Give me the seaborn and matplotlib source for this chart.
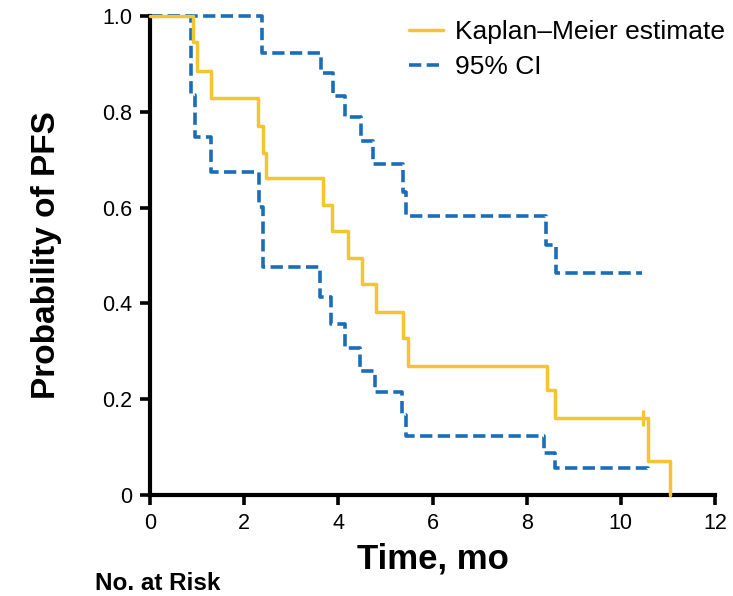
import pandas as pd
import matplotlib.pyplot as plt
import seaborn as sns
from matplotlib.lines import Line2D

# Kaplan-Meier estimate (step times in months, survival probability)
km_time = [0, 0.92, 0.99, 1.29, 2.30, 2.40, 2.46, 3.67, 3.86, 4.20, 4.51, 4.80,
           5.37, 5.48, 8.44, 8.60, 10.57, 11.04]
km_surv = [1.0, 0.946, 0.885, 0.829, 0.770, 0.714, 0.662, 0.605, 0.552, 0.495,
           0.440, 0.383, 0.327, 0.269, 0.219, 0.160, 0.072, 0.0]

# censored observation
cens_time = [10.47]
cens_surv = [0.160]

# 95% CI upper bound
hi_time = [0, 2.37, 3.64, 3.88, 4.15, 4.49, 4.74, 5.38, 5.44, 8.42, 8.62, 10.46]
hi_surv = [1.0, 0.922, 0.882, 0.834, 0.790, 0.738, 0.690, 0.633, 0.582, 0.522,
           0.464, 0.464]

# 95% CI lower bound
lo_time = [0, 0.88, 0.95, 1.29, 2.31, 2.39, 3.61, 3.84, 4.14, 4.46, 4.78, 5.36,
           5.44, 8.37, 8.60, 10.58]
lo_surv = [1.0, 0.835, 0.748, 0.674, 0.602, 0.475, 0.414, 0.358, 0.306, 0.259,
           0.216, 0.167, 0.124, 0.087, 0.056, 0.047]

x_ticks = [0, 2, 4, 6, 8, 10, 12]
y_ticks = [0, 0.2, 0.4, 0.6, 0.8, 1.0]
y_labels = ["0", "0.2", "0.4", "0.6", "0.8", "1.0"]

YELLOW = "#F5C431"
BLUE = "#1A6DB8"

sns.set_style("ticks")
plt.rcParams["font.family"] = ["Liberation Sans", "DejaVu Sans"]
plt.rcParams["text.color"] = "black"
plt.rcParams["axes.labelcolor"] = "black"
plt.rcParams["xtick.color"] = "black"
plt.rcParams["ytick.color"] = "black"
plt.rcParams["axes.edgecolor"] = "black"

fig = plt.figure(figsize=(7.33, 5.96), dpi=100)
ax = fig.add_axes([150 / 733, 1 - 495 / 596, 565 / 733, 479 / 596])

km = pd.DataFrame({"time": km_time, "surv": km_surv})
hi = pd.DataFrame({"time": hi_time, "surv": hi_surv})
lo = pd.DataFrame({"time": lo_time, "surv": lo_surv})

for df in (hi, lo):
    sns.lineplot(data=df, x="time", y="surv", ax=ax, color=BLUE, linewidth=2.6,
                 drawstyle="steps-post", estimator=None, sort=False,
                 dashes=False, linestyle=(0, (3.4, 1.5)), clip_on=False)
sns.lineplot(data=km, x="time", y="surv", ax=ax, color=YELLOW, linewidth=2.5,
             drawstyle="steps-post", estimator=None, sort=False, clip_on=False,
             zorder=3)
ax.plot(cens_time, cens_surv, marker="|", markersize=11, markeredgewidth=2.4,
        color=YELLOW, linestyle="none", zorder=4)

ax.set_xlim(0, 12)
ax.set_ylim(0, 1.0)
ax.set_xticks(x_ticks)
ax.set_yticks(y_ticks)
ax.set_yticklabels(y_labels)
ax.tick_params(axis="both", direction="out", length=7, width=2.6,
               labelsize=15.5, pad=6)
for side in ("top", "right"):
    ax.spines[side].set_visible(False)
for side in ("left", "bottom"):
    ax.spines[side].set_linewidth(3)

ax.set_xlabel("Time, mo", fontsize=25, fontweight="bold", labelpad=6)
ax.set_ylabel("Probability of PFS", fontsize=24, fontweight="bold", labelpad=29)

handles = [Line2D([], [], color=YELLOW, linewidth=2.5),
           Line2D([], [], color=BLUE, linewidth=2.6, linestyle=(0, (3.4, 1.5)))]
fig.legend(handles, ["Kaplan\u2013Meier estimate", "95% CI"], loc="upper right",
           bbox_to_anchor=(1.0 + 10 / 733, 1.0 - 2 / 596), frameon=False,
           fontsize=19, handlelength=1.27, handletextpad=0.45,
           labelspacing=0.4, borderaxespad=0.3)

fig.text(95 / 733, 1 - 584 / 596, "No. at Risk", fontsize=17.5,
         fontweight="bold", va="center", ha="left")

fig.savefig("out.png", dpi=100)
